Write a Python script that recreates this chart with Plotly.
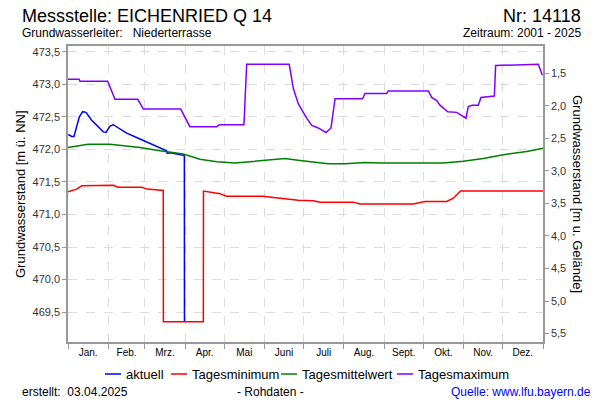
import plotly.graph_objects as go

# ---------------- data ----------------
months = ["Jan.", "Feb.", "Mrz.", "Apr.", "Mai", "Juni", "Juli", "Aug.", "Sept.", "Okt.", "Nov.", "Dez."]
month_starts = [0, 31, 59, 90, 120, 151, 181, 212, 243, 273, 304, 334, 365]
left_ticks = [469.5, 470.0, 470.5, 471.0, 471.5, 472.0, 472.5, 473.0, 473.5]
right_ticks = [1.5, 2.0, 2.5, 3.0, 3.5, 4.0, 4.5, 5.0, 5.5]
ground_level = 474.67  # m ü. NN (Geländehöhe)

# aktuell (day of year, level m ü. NN)
akt_day = [0.2, 2.8, 4.6, 8.7, 11.3, 13.8, 18.2, 27.1, 29.2, 32.3, 34.8, 38.7, 45.1, 55.3,
           68.2, 75.8, 76.3, 78.4, 88.6, 89.4, 89.5]
akt_val = [472.23, 472.20, 472.20, 472.50, 472.58, 472.57, 472.45, 472.27, 472.26, 472.36,
           472.38, 472.33, 472.25, 472.16, 472.05, 471.98, 471.94, 471.95, 471.91, 471.90, 469.35]

# Tagesminimum
min_day = [0, 6.7, 10.5, 24.6, 34.8, 38.7, 56.6, 60.9, 73.2, 73.3, 104.0, 104.1, 110.4, 116.8,
           121.9, 150.1, 157.8, 165.4, 177.0, 188.5, 193.6, 219.2, 224.4, 265.3, 274.3, 291.0,
           296.1, 301.7, 314.0, 316.6, 352.5, 355.0, 365]
min_val = [471.35, 471.39, 471.44, 471.45, 471.45, 471.42, 471.42, 471.39, 471.37, 469.35, 469.35,
           471.36, 471.34, 471.32, 471.28, 471.28, 471.26, 471.24, 471.22, 471.21, 471.19, 471.19,
           471.16, 471.16, 471.20, 471.20, 471.25, 471.36, 471.36, 471.35, 471.35, 471.36, 471.36]

# Tagesmittelwert
mit_day = [0, 15.4, 32.3, 55.3, 70.7, 88.6, 101.4, 114.3, 128.3, 139.8, 155.2, 166.7, 178.3,
           188.5, 200.0, 212.8, 228.2, 241.0, 288.4, 303.7, 319.1, 334.5, 352.5, 365]
mit_val = [472.03, 472.08, 472.08, 472.03, 471.98, 471.93, 471.85, 471.81, 471.79, 471.81,
           471.84, 471.86, 471.83, 471.81, 471.78, 471.78, 471.80, 471.79, 471.79, 471.82,
           471.86, 471.92, 471.97, 472.02]

# Tagesmaximum
max_day = [0, 8.5, 9.2, 30.5, 36.1, 53.6, 57.9, 86.6, 93.7, 114.3, 116.3, 135.2, 137.3, 170.0,
           173.1, 177.0, 183.4, 187.3, 192.3, 198.2, 202.1, 205.2, 226.4, 228.2, 244.9, 246.1,
           276.9, 279.5, 283.3, 285.8, 291.8, 298.7, 305.8, 307.6, 310.7, 315.3, 317.3, 327.6,
           328.6, 361.4, 364.5]
max_val = [473.08, 473.08, 473.05, 473.05, 472.77, 472.77, 472.62, 472.62, 472.35, 472.35,
           472.38, 472.38, 473.31, 473.31, 472.94, 472.70, 472.48, 472.37, 472.33, 472.26,
           472.33, 472.78, 472.78, 472.86, 472.86, 472.90, 472.90, 472.80, 472.75, 472.68,
           472.58, 472.57, 472.48, 472.66, 472.68, 472.68, 472.80, 472.82, 473.29, 473.31, 473.14]

series_names = ["aktuell", "Tagesminimum", "Tagesmittelwert", "Tagesmaximum"]
series_colors = ["#0000ff", "#ff0000", "#008000", "#8000ff"]

# ---------------- figure ----------------
FONT = "Liberation Sans, Arial, sans-serif"
W, H = 600, 400
L, R, T, B = 68, 57, 46, 58
pw, ph = W - L - R, H - T - B
y_lo, y_hi = 469.04, 473.59

def px(x):
    return (x - L) / pw

def py(y):
    return (H - B - y) / ph

fig = go.Figure()
series = [(akt_day, akt_val), (min_day, min_val), (mit_day, mit_val), (max_day, max_val)]
for (xs, ys), nm, col in zip(series, series_names, series_colors):
    fig.add_trace(go.Scatter(x=xs, y=ys, mode="lines", name=nm, showlegend=False,
                             line=dict(color=col, width=1.5)))
# depth axis helper (invisible)
fig.add_trace(go.Scatter(x=[month_starts[0]], y=[ground_level - max_val[0]], yaxis="y2",
                         mode="markers", marker=dict(opacity=0), showlegend=False,
                         hoverinfo="skip"))

mid = [(month_starts[i] + month_starts[i + 1]) / 2 for i in range(12)]

fig.update_layout(
    width=W, height=H,
    margin=dict(l=L, r=R, t=T, b=B, autoexpand=False),
    paper_bgcolor="white", plot_bgcolor="white",
    font=dict(family=FONT, size=11, color="#000000"),
    separators=",.",
    showlegend=False,
    xaxis=dict(range=[0, 365], tickmode="array", tickvals=mid, ticktext=months,
               ticks="", showgrid=False, zeroline=False,
               showline=True, linecolor="#999999", linewidth=1.5, mirror=True,
               tickfont=dict(size=10, color="#000000"),
               minor=dict(tickmode="array", tickvals=month_starts, ticks="outside", ticklen=5,
                          tickcolor="#999999", showgrid=True, gridcolor="#dcdcdc",
                          griddash="dash", gridwidth=1)),
    yaxis=dict(range=[y_lo, y_hi], tickmode="array", tickvals=left_ticks,
               tickformat=".1f", ticks="outside", ticklen=4, tickcolor="#999999",
               showgrid=True, gridcolor="#dcdcdc", griddash="dash", gridwidth=1,
               zeroline=False, showline=True, linecolor="#999999", linewidth=1.5,
               tickfont=dict(size=11, color="#333333")),
    yaxis2=dict(overlaying="y", side="right",
                range=[ground_level - y_lo, ground_level - y_hi],
                tickmode="array", tickvals=right_ticks, tickformat=".1f",
                ticks="outside", ticklen=4, tickcolor="#999999",
                showgrid=False, zeroline=False, showline=True, linecolor="#999999",
                linewidth=1.5, tickfont=dict(size=11, color="#333333")),
)

ann = [
    dict(text="Messstelle: EICHENRIED Q 14", x=px(20), y=py(16), xanchor="left",
         font=dict(size=18)),
    dict(text="Nr: 14118", x=px(583), y=py(16), xanchor="right", font=dict(size=18)),
    dict(text="Grundwasserleiter:\u00a0\u00a0\u00a0Niederterrasse", x=px(20), y=py(33),
         xanchor="left", font=dict(size=12)),
    dict(text="Zeitraum: 2001 - 2025", x=px(583), y=py(33), xanchor="right",
         font=dict(size=12)),
    dict(text="Grundwasserstand [m ü. NN]", x=px(20), y=0.5, xanchor="center",
         textangle=-90, font=dict(size=13)),
    dict(text="Grundwasserstand [m u. Gelände]", x=px(578), y=0.5, xanchor="center",
         textangle=90, font=dict(size=13)),
    dict(text="erstellt:\u00a0\u00a003.04.2025", x=px(20), y=py(392), xanchor="left",
         font=dict(size=12)),
    dict(text="- Rohdaten -", x=px(270), y=py(392), xanchor="center", font=dict(size=12)),
    dict(text="Quelle: www.lfu.bayern.de", x=px(593), y=py(392), xanchor="right",
         font=dict(size=12, color="#0000ff")),
]

# manual legend (line sample + label)
legend_line_x = [105, 171, 281, 397]
for lx, nm, col in zip(legend_line_x, series_names, series_colors):
    fig.add_shape(type="line", xref="paper", yref="paper", x0=px(lx), x1=px(lx + 16),
                  y0=py(374), y1=py(374), line=dict(color=col, width=1.5))
    ann.append(dict(text=nm, x=px(lx + 19), y=py(374), xanchor="left", font=dict(size=13)))

for a in ann:
    a.update(xref="paper", yref="paper", yanchor="middle", showarrow=False)
    fig.add_annotation(**a)

fig.write_html("out.html")
